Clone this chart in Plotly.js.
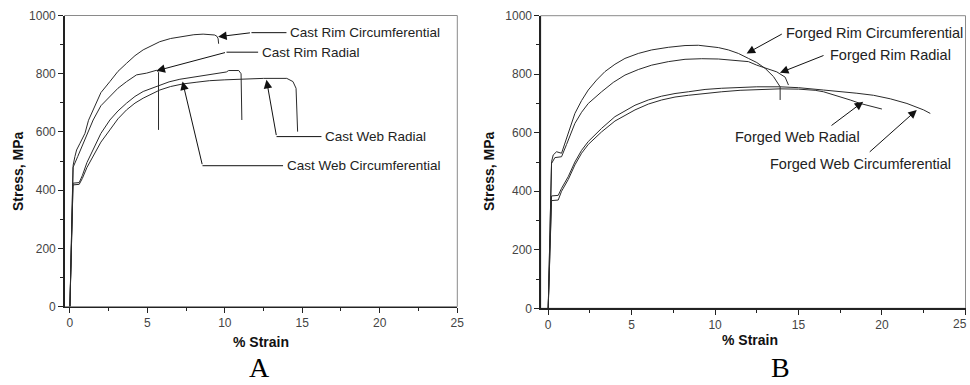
<!DOCTYPE html>
<html>
<head>
<meta charset="utf-8">
<script src="https://cdn.plot.ly/plotly-3.0.1.min.js"></script>
<style>html,body{margin:0;padding:0;background:#fff;}#chart{width:970px;height:385px;}</style>
</head>
<body>
<div id="chart"></div>
<script>
// ---- Panel A : cast material (strain %, stress MPa) ----
const castRimCircX = [0, 0.1, 0.21, 0.32, 0.43, 0.65, 0.97, 1.2, 1.5, 2.0, 2.58, 3.1, 3.66, 4.2, 4.73, 5.3, 5.8, 6.5, 7.3, 8.0, 8.6, 9.35, 9.5, 9.57, 9.6];
const castRimCircY = [0, 250, 486, 515, 538, 561, 595, 640, 676, 735, 773, 808, 836, 862, 882, 898, 910, 921, 929, 934, 936, 933, 928, 920, 903];

const castRimRadX = [0, 0.1, 0.2, 0.5, 0.86, 1.2, 1.5, 2.0, 2.58, 3.1, 3.66, 4.3, 4.95, 5.4, 5.6, 5.72, 5.72];
const castRimRadY = [0, 250, 478, 515, 561, 605, 641, 690, 721, 750, 773, 796, 802, 810, 812, 805, 607];

const castWebCircX = [0, 0.1, 0.2, 0.6, 0.8, 1.1, 1.5, 2.0, 2.58, 3.1, 3.66, 4.2, 4.73, 5.3, 5.8, 6.4, 7.1, 8.0, 8.8, 9.9, 10.1, 10.25, 10.9, 11.05, 11.1];
const castWebCircY = [0, 220, 424, 426, 450, 495, 538, 595, 641, 672, 699, 722, 739, 751, 761, 772, 781, 789, 796, 804, 806, 811, 811, 800, 641];

const castWebRadX = [0, 0.1, 0.2, 0.6, 0.8, 1.1, 1.5, 2.0, 2.58, 3.1, 3.66, 4.2, 4.73, 5.3, 5.8, 6.5, 7.3, 8.2, 9.0, 10.0, 11.2, 12.5, 14.0, 14.4, 14.6, 14.7];
const castWebRadY = [0, 210, 418, 420, 440, 478, 515, 565, 607, 645, 676, 699, 716, 732, 744, 756, 765, 771, 776, 779, 782, 784, 784, 773, 750, 601];

// ---- Panel B : forged material ----
const forgedRimCircX = [0, 0.1, 0.2, 0.3, 0.5, 0.8, 1.0, 1.3, 1.6, 2.0, 2.4, 2.9, 3.4, 4.0, 4.6, 5.4, 6.2, 7.2, 8.2, 9.0, 9.6, 10.2, 10.8, 11.4, 12.0, 12.5, 13.0, 13.5, 13.9, 13.9];
const forgedRimCircY = [0, 250, 501, 524, 535, 530, 564, 620, 666, 710, 746, 780, 809, 834, 854, 871, 883, 892, 898, 899, 896, 891, 883, 871, 854, 840, 820, 792, 757, 712];

const forgedRimRadX = [0, 0.1, 0.2, 0.4, 0.8, 1.1, 1.6, 2.0, 2.4, 3.2, 3.9, 4.6, 5.4, 6.2, 7.2, 8.2, 9.2, 10.2, 11.2, 12.0, 12.5, 13.0, 13.7, 14.2, 14.4];
const forgedRimRadY = [0, 250, 495, 515, 518, 560, 632, 670, 700, 740, 772, 797, 816, 831, 843, 851, 853, 852, 848, 843, 831, 822, 808, 790, 763];

const forgedWebCircX = [0, 0.1, 0.2, 0.6, 0.8, 1.2, 1.6, 2.0, 2.4, 3.2, 4.0, 5.2, 6.0, 6.8, 7.6, 8.4, 9.4, 10.4, 11.5, 12.5, 13.9, 15.0, 16.5, 17.5, 18.5, 19.5, 20.5, 21.5, 22.1, 22.5, 22.9];
const forgedWebCircY = [0, 200, 384, 386, 410, 450, 500, 540, 570, 615, 655, 694, 712, 725, 734, 740, 748, 752, 755, 757, 757, 754, 746, 741, 735, 728, 716, 700, 687, 678, 666];

const forgedWebRadX = [0, 0.1, 0.2, 0.6, 0.8, 1.2, 1.6, 2.0, 2.4, 3.2, 4.0, 5.2, 6.0, 6.8, 7.6, 8.4, 9.4, 10.4, 11.5, 12.5, 13.9, 15.0, 16.0, 16.5, 17.0, 17.5, 18.1, 18.7, 19.4, 20.0];
const forgedWebRadY = [0, 190, 368, 370, 400, 440, 490, 530, 560, 603, 640, 678, 698, 712, 722, 728, 735, 740, 745, 748, 750, 749, 745, 740, 732, 723, 712, 700, 690, 681];

const xTickVals = [0, 5, 10, 15, 20, 25];
const xTickTextA = ['0', '5', '10', '15', '20', '25'];
const xTickTextB = ['0', '5', '10', '15', '20', ''];
const yTickVals = [0, 200, 400, 600, 800, 1000];

const lineStyle = {color: '#2a2a2a', width: 1};
function curve(x, y, xa, ya) {
  return {x: x, y: y, xaxis: xa, yaxis: ya, type: 'scatter', mode: 'lines', line: lineStyle, hoverinfo: 'skip'};
}

const traces = [
  curve(castRimCircX, castRimCircY, 'x', 'y'),
  curve(castRimRadX, castRimRadY, 'x', 'y'),
  curve(castWebCircX, castWebCircY, 'x', 'y'),
  curve(castWebRadX, castWebRadY, 'x', 'y'),
  curve(forgedRimCircX, forgedRimCircY, 'x2', 'y2'),
  curve(forgedRimRadX, forgedRimRadY, 'x2', 'y2'),
  curve(forgedWebCircX, forgedWebCircY, 'x2', 'y2'),
  curve(forgedWebRadX, forgedWebRadY, 'x2', 'y2')
];

const tickFont = {family: 'Arial, "Liberation Sans", sans-serif', size: 12, color: '#444'};
function xAxis(domain, range, anchor, ticktext) {
  return {domain: domain, range: range, anchor: anchor, tickvals: xTickVals, ticktext: ticktext, ticks: 'outside', ticklen: 5, tickwidth: 1,
    tickcolor: '#222', showline: true, linecolor: '#222', linewidth: 1.3, showgrid: false, zeroline: false,
    tickfont: tickFont, fixedrange: true, ticklabeloverflow: 'allow',
    minor: {dtick: 2.5, tick0: 0, ticks: 'outside', ticklen: 3, tickcolor: '#222', showgrid: false}};
}
function yAxis(domain, anchor) {
  return {domain: domain, range: [0, 1000], anchor: anchor, tickvals: yTickVals, ticks: 'outside', ticklen: 5, tickwidth: 1,
    tickcolor: '#222', showline: true, linecolor: '#222', linewidth: 1.3, showgrid: false, zeroline: false,
    tickfont: tickFont, fixedrange: true,
    minor: {dtick: 100, tick0: 0, ticks: 'outside', ticklen: 3, tickcolor: '#222', showgrid: false}};
}

const W = 970, H = 385;
const labFont = {family: 'Arial, "Liberation Sans", sans-serif', size: 13.5, color: '#222'};
const labFontB = {family: 'Arial, "Liberation Sans", sans-serif', size: 14.5, color: '#222'};
const titleFont = {family: 'Arial, "Liberation Sans", sans-serif', size: 14, color: '#111', weight: 'bold'};
const panelFont = {family: '"Liberation Serif", "Times New Roman", serif', size: 28, color: '#000'};

function txt(text, x, y, xr, yr, font, xanchor) {
  return {text: text, x: x, y: y, xref: xr, yref: yr, showarrow: false, font: font, xanchor: xanchor || 'left', yanchor: 'middle'};
}
function arrow(tx, ty, fx, fy, xr, yr) {
  return {text: '', x: tx, y: ty, ax: fx, ay: fy, xref: xr, yref: yr, axref: xr, ayref: yr, showarrow: true,
    arrowhead: 2, arrowsize: 1.7, arrowwidth: 1, arrowcolor: '#111', standoff: 0, startstandoff: 0};
}
function pTxt(text, px, py, font, angle, xanchor) {
  return {text: text, x: px / W, y: 1 - py / H, xref: 'paper', yref: 'paper', showarrow: false, font: font,
    xanchor: xanchor || 'center', yanchor: 'middle', textangle: angle || 0};
}

const annotations = [
  // panel A labels
  txt('Cast Rim Circumferential', 14.06, 942, 'x', 'y', labFont),
  arrow(9.57, 927, 11.72, 941, 'x', 'y'),
  txt('Cast Rim Radial', 12.26, 874, 'x', 'y', labFont),
  arrow(5.59, 810, 10.11, 874, 'x', 'y'),
  txt('Cast Web Radial', 16.34, 584, 'x', 'y', labFont),
  arrow(12.69, 779, 13.34, 584, 'x', 'y'),
  txt('Cast Web Circumferential', 13.87, 484, 'x', 'y', labFont),
  arrow(7.27, 773, 8.56, 484, 'x', 'y'),
  // panel B labels
  txt('Forged Rim Circumferential', 14.15, 940, 'x2', 'y2', labFontB),
  arrow(11.89, 871, 14.09, 940, 'x2', 'y2'),
  txt('Forged Rim Radial', 16.75, 866, 'x2', 'y2', labFontB),
  arrow(13.89, 805, 16.59, 866, 'x2', 'y2'),
  txt('Forged Web Radial', 14.92, 586, 'x2', 'y2', labFontB, 'center'),
  arrow(18.88, 706, 16.89, 621, 'x2', 'y2'),
  txt('Forged Web Circumferential', 18.72, 492, 'x2', 'y2', labFontB, 'center'),
  arrow(22.09, 678, 19.18, 530, 'x2', 'y2'),
  // last x tick label of panel B, kept inside the page edge
  pTxt('25', 969, 324, tickFont, 0, 'right'),
  // axis titles & panel letters
  pTxt('Stress, MPa', 18, 171, titleFont, -90),
  pTxt('Stress, MPa', 489, 171, titleFont, -90),
  pTxt('% Strain', 261, 342, titleFont),
  pTxt('% Strain', 750, 340, titleFont),
  pTxt('A', 259, 367, panelFont),
  pTxt('B', 780, 367, panelFont)
];

function leader(x0, x1, y, xr, yr) {
  return {type: 'line', x0: x0, x1: x1, y0: y, y1: y, xref: xr, yref: yr, line: {color: '#111', width: 1}};
}
const shapes = [
  {type: 'rect', xref: 'x domain', yref: 'y domain', x0: 0, x1: 1, y0: 0, y1: 1, line: {color: '#8a8a8a', width: 1}, layer: 'below'},
  {type: 'rect', xref: 'x2 domain', yref: 'y2 domain', x0: 0, x1: 1, y0: 0, y1: 1, line: {color: '#8a8a8a', width: 1}, layer: 'below'},
  leader(11.72, 13.98, 941, 'x', 'y'),
  leader(10.11, 12.15, 874, 'x', 'y'),
  leader(13.34, 16.24, 584, 'x', 'y'),
  leader(8.56, 13.76, 484, 'x', 'y')
];

const layout = {
  width: W, height: H,
  margin: {l: 0, r: 0, t: 0, b: 0},
  paper_bgcolor: '#fff', plot_bgcolor: '#fff',
  showlegend: false,
  xaxis: xAxis([64.5 / W, 457.3 / W], [-0.35, 25.01], 'y', xTickTextA),
  yaxis: yAxis([1 - 306.6 / H, 1 - 15.5 / H], 'x'),
  xaxis2: xAxis([540.7 / W, 965.5 / W], [-0.45, 25.01], 'y2', xTickTextB),
  yaxis2: yAxis([1 - 308.3 / H, 1 - 15.7 / H], 'x2'),
  annotations: annotations,
  shapes: shapes
};

Plotly.newPlot('chart', traces, layout, {displayModeBar: false, staticPlot: true});
</script>
</body>
</html>
